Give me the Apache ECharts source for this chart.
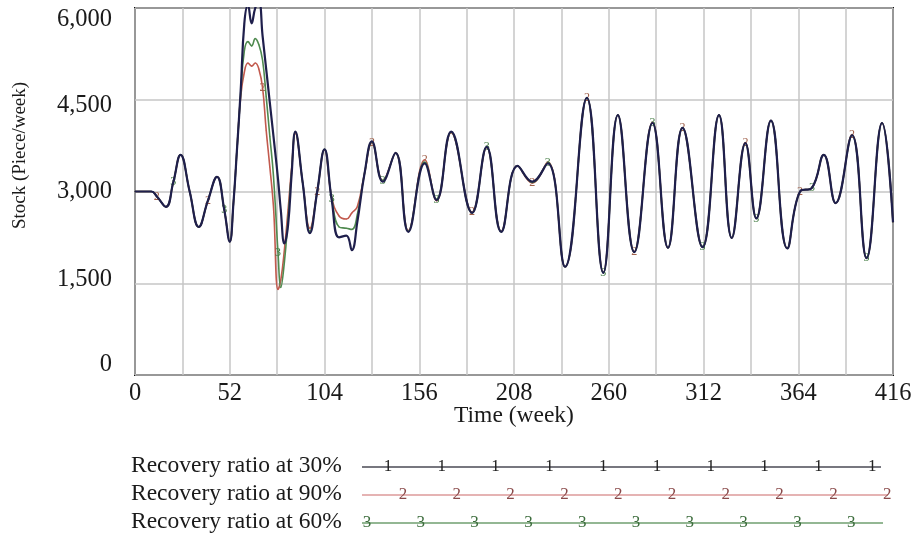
<!DOCTYPE html>
<html><head><meta charset="utf-8">
<script src="https://cdn.jsdelivr.net/npm/echarts@6/dist/echarts.min.js"></script>
<style>html,body{margin:0;padding:0;background:#fff;}#c{width:917px;height:545px;}</style>
</head><body><div id="c"></div>
<script>
// ---- data ----
const weeks = [0, 9, 12, 17, 21, 25, 30, 35, 40, 45, 49, 52, 54, 56, 58, 60, 62, 64, 66, 68,
  70, 72, 74, 76, 78.5, 80, 82, 84, 86, 88, 92, 96, 100, 104, 108, 112, 116, 119, 122, 126,
  130, 136, 143, 150, 159, 165.5, 173.5, 185, 193, 201, 210, 218, 226.5, 236, 248, 257, 265, 274, 284, 292.5,
  300.5, 311.5, 320.5, 327.5, 335, 341, 349, 358, 365, 371.5, 378, 384.5, 393.5, 401.5, 410, 416];
const stock30 = [3000, 3000, 2920, 2750, 3150, 3600, 3000, 2420, 2850, 3240, 2700, 2180, 2800, 3700, 4650, 5750, 6050, 5750, 6000, 6100,
  5550, 5000, 4450, 3900, 3200, 2700, 2150, 2450, 3300, 3980, 3150, 2320, 3000, 3690, 2850, 2250, 2280, 2040, 2500, 3300,
  3820, 3160, 3630, 2340, 3460, 2860, 3980, 2650, 3730, 2340, 3420, 3160, 3460, 1770, 4530, 1670, 4250, 2010, 4120, 2080,
  4040, 2090, 4250, 2240, 3790, 2560, 4160, 2070, 3000, 3060, 3600, 2810, 3920, 1910, 4120, 2500];
const stock90 = [3000, 3000, 2920, 2750, 3150, 3600, 3000, 2420, 2850, 3240, 2700, 2180, 2800, 3700, 4550, 4950, 5100, 5050, 5100, 5000,
  4700, 4000, 3400, 2750, 1400, 1550, 2050, 2700, 3400, 3950, 3150, 2400, 3000, 3680, 2900, 2600, 2550, 2650, 2750, 3300,
  3800, 3180, 3630, 2360, 3520, 2850, 3960, 2660, 3720, 2350, 3420, 3140, 3480, 1770, 4530, 1680, 4250, 2020, 4130, 2080,
  4040, 2090, 4250, 2240, 3800, 2560, 4160, 2070, 3000, 3060, 3600, 2810, 3930, 1910, 4120, 2500];
const stock60 = [3000, 3000, 2920, 2750, 3150, 3600, 3000, 2420, 2850, 3240, 2700, 2180, 2800, 3700, 4600, 5300, 5450, 5380, 5500, 5400,
  5150, 4550, 3900, 3250, 2000, 1430, 1850, 2550, 3350, 3970, 3150, 2350, 3000, 3690, 2880, 2420, 2400, 2380, 2620, 3300,
  3810, 3170, 3630, 2350, 3480, 2870, 3970, 2650, 3730, 2340, 3420, 3150, 3470, 1770, 4530, 1670, 4250, 2010, 4120, 2080,
  4040, 2090, 4250, 2240, 3790, 2560, 4160, 2070, 3000, 3060, 3600, 2810, 3920, 1910, 4120, 2500];
const seriesNames = ['Recovery ratio at 30%', 'Recovery ratio at 90%', 'Recovery ratio at 60%'];
const seriesMarks = ['1', '2', '3'];
const yTicks = [0, 1500, 3000, 4500, 6000];
const xLabelStep = 52;

// ---- styling ----
const FONT = '"Liberation Serif", "Times New Roman", serif';
const TXT = '#1a1a1a';
const lineColors = ['#1f1f4c', '#c25a4e', '#4f8a4f'];
const markColors = ['#1f1f4c', '#a0604a', '#3f7a3f'];
const legendLineColors = ['#4a4a55', '#dc9a9a', '#6f9f6f'];
const legendMarkColors = ['#222', '#8a4a4a', '#3d6d3d'];
const markPlan = [null, {start: 11, step: 29.4}, {start: 20, step: 29.4}];

function nearestIndex(t) {
  let best = 0;
  weeks.forEach((w, i) => { if (Math.abs(w - t) < Math.abs(weeks[best] - t)) best = i; });
  return best;
}
function buildData(vals, plan) {
  const marked = new Set();
  if (plan) for (let t = plan.start; t < 416; t += plan.step) marked.add(nearestIndex(t));
  return weeks.map((w, i) => marked.has(i) ? {value: [w, vals[i]], label: {show: true}} : [w, vals[i]]);
}
const allVals = [stock30, stock90, stock60];
const zOrder = [5, 3, 4];

const series = allVals.map((vals, k) => ({
  name: seriesNames[k],
  type: 'line',
  data: buildData(vals, markPlan[k]),
  smooth: 0.45,
  symbol: 'circle',
  symbolSize: 1,
  showSymbol: true,
  showAllSymbol: true,
  z: zOrder[k],
  lineStyle: {color: lineColors[k], width: k === 0 ? 2.2 : 1.6},
  itemStyle: {color: lineColors[k]},
  label: {show: false, position: 'inside', formatter: seriesMarks[k], fontFamily: FONT, fontSize: 12, color: markColors[k]},
  emphasis: {disabled: true},
  animation: false
}));

// legend (Vensim style) as graphic
const legendRowsY = [466, 494, 522];
const legendLineEnd = [881, 888, 883];
const legendMarkStart = [388, 403, 367];
const legendMarkStep = 53.8;
const graphic = [];
seriesNames.forEach((name, k) => {
  const y = legendRowsY[k];
  graphic.push({type: 'text', x: 131, y: y, style: {text: name, font: '23.5px ' + FONT, fill: TXT, verticalAlign: 'middle', align: 'left'}});
  graphic.push({type: 'line', shape: {x1: 362, y1: y + 1, x2: legendLineEnd[k], y2: y + 1}, style: {stroke: legendLineColors[k], lineWidth: 1.6}});
  for (let j = 0; j < 10; j++) {
    graphic.push({type: 'text', x: legendMarkStart[k] + j * legendMarkStep, y: y + 1,
      style: {text: seriesMarks[k], font: '17px ' + FONT, fill: legendMarkColors[k], align: 'center', verticalAlign: 'middle'}});
  }
});

const yShift = {0: [0, 0, 20, 0], 1500: [0, 0, 8, 0], 3000: [0, 0, 0, 0], 4500: [12, 0, 0, 0], 6000: [24, 0, 0, 0]};
const rich = {};
yTicks.forEach(v => { rich['y' + v] = {fontFamily: FONT, fontSize: 24.5, color: TXT, padding: yShift[v]}; });

const option = {
  backgroundColor: '#fff',
  animation: false,
  grid: {left: 135, right: 24, top: 8, bottom: 170, show: true, borderColor: '#111', borderWidth: 2, backgroundColor: 'transparent'},
  xAxis: {
    type: 'value', min: 0, max: 416, interval: 26,
    name: 'Time (week)', nameLocation: 'middle', nameGap: 29, nameMoveOverlap: false,
    nameTextStyle: {fontFamily: FONT, fontSize: 23.5, color: TXT},
    axisLine: {show: false}, axisTick: {show: false},
    axisLabel: {margin: 6, fontFamily: FONT, fontSize: 24.5, color: TXT,
      formatter: v => (v % xLabelStep === 0 ? String(v) : '')},
    splitLine: {show: true, lineStyle: {color: '#c6c6c6', width: 1.5}}
  },
  yAxis: {
    type: 'value', min: 0, max: 6000, interval: 1500,
    name: 'Stock (Piece/week)', nameLocation: 'middle', nameGap: 105, nameMoveOverlap: false,
    nameTextStyle: {fontFamily: FONT, fontSize: 19, color: TXT, padding: [0, 0, 0, 72]},
    axisLine: {show: false}, axisTick: {show: false},
    axisLabel: {margin: 23, fontFamily: FONT, fontSize: 24.5, color: TXT,
      formatter: v => '{y' + v + '|' + v.toLocaleString('en-US') + '}', rich: rich},
    splitLine: {show: true, lineStyle: {color: '#c6c6c6', width: 1.5}}
  },
  graphic: graphic,
  series: series
};
const chart = echarts.init(document.getElementById('c'), null, {renderer: 'canvas'});
chart.setOption(option);
</script>
</body></html>
